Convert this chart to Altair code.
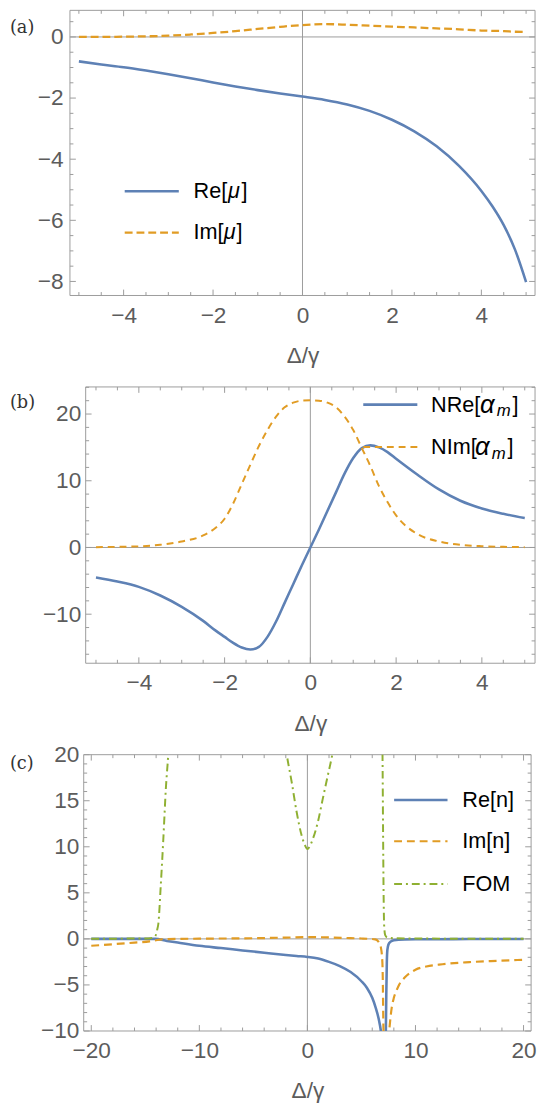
import math
import altair as alt
import pandas as pd

# ---------------- panel (a): mu ----------------
xa = [-5, -4.5, -4, -3.5, -3, -2.5, -2, -1.5, -1, -0.5, 0, 0.5, 1, 1.5, 2, 2.5, 3, 3.5, 4, 4.25, 4.5, 4.75, 5]
re_mu = [-0.80, -0.90, -0.99, -1.10, -1.22, -1.35, -1.49, -1.62, -1.74, -1.85, -1.95, -2.06, -2.21,
         -2.42, -2.71, -3.09, -3.58, -4.22, -5.04, -5.55, -6.16, -6.95, -8.02]
im_mu = [0.00, 0.00, 0.01, 0.02, 0.04, 0.08, 0.13, 0.19, 0.26, 0.33, 0.39, 0.42, 0.40,
         0.37, 0.34, 0.31, 0.28, 0.25, 0.21, 0.20, 0.19, 0.17, 0.16]

# ---------------- panel (b): alpha_m ----------------
xb = [-5, -4.5, -4, -3.5, -3, -2.5, -2.2, -2, -1.8, -1.6, -1.4, -1.2, -1, -0.8, -0.6, -0.4, -0.2, 0,
      0.2, 0.4, 0.6, 0.8, 1, 1.2, 1.4, 1.6, 1.8, 2, 2.5, 3, 3.5, 4, 4.5, 5]
nre_am = [-4.5, -5.1, -5.9, -7.2, -8.9, -11.0, -12.5, -13.4, -14.3, -15.0, -15.3, -14.9, -13.4, -11.1,
          -8.3, -5.5, -2.7, 0.0, 2.7, 5.5, 8.3, 11.1, 13.4, 14.9, 15.3, 15.0, 14.3, 13.3, 10.9, 8.7,
          7.0, 5.85, 5.05, 4.4]
nim_am = [0.05, 0.10, 0.17, 0.40, 0.90, 1.80, 3.00, 4.30, 6.60, 9.50, 12.40, 15.20, 17.60, 19.60,
          21.00, 21.70, 22.00, 22.05, 22.00, 21.70, 21.00, 19.60, 17.60, 14.90, 12.20, 9.20, 6.80,
          4.80, 2.00, 0.90, 0.40, 0.20, 0.10, 0.05]

# ---------------- panel (c): n and FOM (branches split where curves leave the range) ----------------
xc_re_1 = [-20, -18, -16, -14.6, -14.1, -13, -12, -10, -8, -6, -4, -2, -1, 0, 1, 2, 3, 4, 5, 5.5, 6,
           6.3, 6.6, 6.8, 6.9]
re_n_1 = [0, 0, 0, 0, 0, -0.22, -0.4, -0.75, -1.0, -1.25, -1.5, -1.75, -1.86, -1.96, -2.14, -2.5,
          -2.95, -3.6, -4.6, -5.3, -6.4, -7.4, -8.7, -10.0, -11.0]
xc_re_2 = [7.25, 7.3, 7.35, 7.4, 7.5, 7.7, 8.0, 9, 10, 12, 15, 20]
re_n_2 = [-11, -6, -2.5, -1.2, -0.6, -0.3, -0.15, -0.06, -0.04, -0.03, -0.02, -0.01]

xc_im_1 = [-20, -18, -16, -14.6, -14.1, -13.5, -12, -10, -8, -6, -4, -2, 0, 2, 4, 5, 5.8, 6.27,
           6.57, 6.81, 6.94, 6.97, 7.03, 7.06]
im_n_1 = [-0.75, -0.58, -0.4, -0.27, -0.18, -0.05, 0.0, 0.02, 0.04, 0.06, 0.09, 0.14, 0.2, 0.16,
          0.08, 0.04, 0.0, -0.05, -0.29, -1.0, -2.6, -4.0, -9.4, -11]
xc_im_2 = [7.5, 7.6, 7.8, 8.0, 8.25, 8.5, 9, 10, 11, 12.5, 15, 17.5, 20]
im_n_2 = [-11, -9.6, -7.5, -6.4, -5.6, -4.95, -4.2, -3.35, -3.0, -2.75, -2.52, -2.38, -2.27]

xc_fom_1 = [-20, -17, -15, -14.5, -14.2, -14.1, -14.0, -13.9, -13.79, -13.58, -13.33, -13.1, -12.88, -12.7]
fom_1 = [0.02, 0.03, 0.05, 0.08, 0.15, 0.25, 0.5, 1.0, 1.67, 5.6, 10.9, 16.3, 20, 24]
xc_fom_2 = [-2.1, -1.91, -1.45, -1.0, -0.55, -0.24, 0, 0.21, 0.52, 0.97, 1.42, 1.88, 2.3, 2.45]
fom_2 = [21.5, 20, 17.0, 13.8, 11.3, 10.2, 9.75, 10.04, 10.9, 12.7, 15.2, 17.7, 20, 21]
xc_fom_3 = [6.9, 6.95, 7.0, 7.05, 7.1, 7.2, 7.4, 8, 10, 15, 20]
fom_3 = [24, 20, 12, 5, 1.5, 0.4, 0.15, 0.08, 0.04, 0.02, 0.01]

# ---------------- styling ----------------
FONT = "Liberation Sans"
FS = 22        # legend text
AFS = 23       # tick labels and axis titles
LAB = "#5c5c5c"
FRAME = "#9b9b9b"
BLUE, ORANGE, GREEN = "#5E81B5", "#E19C24", "#8FB032"
W = 474
ONE = pd.DataFrame({"z": [0.0]})


def branches(*pairs):
    parts = []
    for i, (xx, yy) in enumerate(pairs):
        parts.append(pd.DataFrame({"x": xx, "y": yy, "seg": i}))
    return pd.concat(parts, ignore_index=True)


def steps(lo, hi, step, skip):
    out = []
    k = math.ceil(lo / step - 1e-9)
    while k * step <= hi + 1e-9:
        v = round(k * step, 6)
        if all(abs(v - s) > 1e-9 for s in skip):
            out.append(v)
        k += 1
    return out


def panel(series, xdom, ydom, xl, xr, H, xmaj, xstep, ymaj, ystep, yoff, ylpad,
          tag, tag_y, leg_lines, leg_texts, guard=False):
    xs = alt.Scale(domain=xdom, range=[xl, xr], nice=False, zero=False)
    ys = alt.Scale(domain=ydom, nice=False, zero=False)
    xaxis = alt.Axis(values=xmaj, title="Δ/γ", ticks=False, domain=False, grid=False,
                     labelFont=FONT, labelFontSize=AFS, labelColor=LAB, labelPadding=9,
                     labelFlush=False, labelOverlap=False,
                     titleFont=FONT, titleFontSize=AFS, titleFontWeight="normal",
                     titleColor=LAB, titlePadding=18)
    yaxis = alt.Axis(values=ymaj, title=None, ticks=False, domain=False, grid=False,
                     labelFont=FONT, labelFontSize=AFS, labelColor=LAB, labelPadding=ylpad,
                     offset=yoff, labelFlush=False, labelOverlap=False)
    X = lambda f: alt.X(f, scale=xs, axis=xaxis)
    Y = lambda f: alt.Y(f, scale=ys, axis=yaxis)
    layers = []
    # frame
    layers.append(alt.Chart(ONE).mark_rect(fill="transparent", stroke=FRAME, strokeWidth=1).encode(
        x=alt.value(xl), x2=alt.value(xr), y=alt.value(0), y2=alt.value(H)))
    # zero axes
    layers.append(alt.Chart(ONE).mark_rule(color=FRAME, strokeWidth=1).encode(x=X("z:Q")))
    layers.append(alt.Chart(ONE).mark_rule(color=FRAME, strokeWidth=1).encode(
        y=Y("z:Q"), x=alt.value(xl), x2=alt.value(xr)))
    # frame ticks on all four sides
    xminor = steps(xdom[0], xdom[1], xstep, xmaj)
    yminor = steps(ydom[0], ydom[1], ystep, ymaj)
    for vals, ln in ((xmaj, 6), (xminor, 3.5)):
        d = pd.DataFrame({"v": vals})
        for y1, y2 in ((H, H - ln), (0, ln)):
            layers.append(alt.Chart(d).mark_rule(color=FRAME, strokeWidth=1).encode(
                x=X("v:Q"), y=alt.value(y1), y2=alt.value(y2)))
    for vals, ln in ((ymaj, 6), (yminor, 3.5)):
        d = pd.DataFrame({"v": vals})
        for x1, x2 in ((xl, xl + ln), (xr, xr - ln)):
            layers.append(alt.Chart(d).mark_rule(color=FRAME, strokeWidth=1).encode(
                y=Y("v:Q"), x=alt.value(x1), x2=alt.value(x2)))
    # data series
    for df, color, dash, sw in series:
        mk = dict(color=color, strokeWidth=sw, clip=True, interpolate="monotone")
        if dash:
            mk["strokeDash"] = dash
        layers.append(alt.Chart(df).mark_line(**mk).encode(
            x=X("x:Q"), y=Y("y:Q"), detail="seg:N"))
    # legend
    for x1, x2, y, color, dash, sw in leg_lines:
        mk = dict(color=color, strokeWidth=sw)
        if dash:
            mk["strokeDash"] = dash
        layers.append(alt.Chart(ONE).mark_rule(**mk).encode(
            x=alt.value(x1), x2=alt.value(x2), y=alt.value(y)))
    for x, y, txt, size, style in leg_texts:
        layers.append(alt.Chart(ONE).mark_text(
            text=txt, align="left", baseline="middle", font=FONT, fontSize=size,
            fontStyle=style, color="#000000").encode(x=alt.value(x), y=alt.value(y)))
    # panel tag
    layers.append(alt.Chart(ONE).mark_text(
        text=tag, align="left", baseline="middle", font="DejaVu Serif", fontSize=18,
        color="#333333").encode(x=alt.value(-60), y=alt.value(tag_y)))
    if guard:
        layers.append(alt.Chart(ONE).mark_rule(strokeOpacity=0).encode(
            x=alt.value(30), y=alt.value(-11), y2=alt.value(0)))
    return alt.layer(*layers).properties(width=W, height=H)


dfa_re = branches((xa, re_mu))
dfa_im = branches((xa, im_mu))
dfb_re = branches((xb, nre_am))
dfb_im = branches((xb, nim_am))
dfc_re = branches((xc_re_1, re_n_1), (xc_re_2, re_n_2))
dfc_im = branches((xc_im_1, im_n_1), (xc_im_2, im_n_2))
dfc_fom = branches((xc_fom_1, fom_1), (xc_fom_2, fom_2), (xc_fom_3, fom_3))

pa = panel(
    [(dfa_re, BLUE, None, 2.6), (dfa_im, ORANGE, [8, 4], 2.3)],
    [-5.2, 5.2], [-8.46, 0.87], 1, 474, 290,
    [-4, -2, 0, 2, 4], 0.5, [-8, -6, -4, -2, 0], 0.5, -1, 7,
    "(a)", 18,
    [(56.7, 111.7, 184, BLUE, None, 2.6), (56.7, 111.7, 226, ORANGE, [8, 4], 2.3)],
    [(126.7, 184, "Re[", FS, "normal"), (161.7, 184, "μ", FS, "italic"), (175.4, 184, "]", FS, "normal"),
     (126.7, 226, "Im[", FS, "normal"), (157.3, 226, "μ", FS, "italic"), (170.5, 226, "]", FS, "normal")],
)

pb = panel(
    [(dfb_re, BLUE, None, 2.6), (dfb_im, ORANGE, [7, 5], 2.0)],
    [-5.24, 5.24], [-17.35, 24.06], 17, 474, 281,
    [-4, -2, 0, 2, 4], 0.5, [-10, 0, 10, 20], 2, -17, 5,
    "(b)", 16,
    [(299.3, 354.3, 18, BLUE, None, 2.6), (299.3, 354.3, 61, ORANGE, [7, 5], 2.0)],
    [(368.3, 18, "NRe[", FS, "normal"), (418, 18, "α", 26, "italic"), (435, 25, "m", 17, "italic"),
     (451, 18, "]", FS, "normal"),
     (368.3, 61, "NIm[", FS, "normal"), (413, 61, "α", 26, "italic"), (430, 68, "m", 17, "italic"),
     (446, 61, "]", FS, "normal")],
    guard=True,
)

pc = panel(
    [(dfc_re, BLUE, None, 2.6), (dfc_im, ORANGE, [8, 5], 2.2), (dfc_fom, GREEN, [8, 4, 2, 4], 2.0)],
    [-20.7, 20.7], [-10, 20], 15, 470, 281,
    [-20, -10, 0, 10, 20], 2, [-10, -5, 0, 5, 10, 15, 20], 1, -15, 5,
    "(c)", 10,
    [(330.7, 385, 46, BLUE, None, 2.6), (330.7, 385, 88, ORANGE, [8, 5], 2.2),
     (330.7, 385, 131.5, GREEN, [8, 4, 2, 4], 2.0)],
    [(400, 46, "Re[n]", FS, "normal"), (400, 88, "Im[n]", FS, "normal"), (400, 131.5, "FOM", FS, "normal")],
)

chart = alt.vconcat(pa, pb, pc, spacing=9).properties(
    padding={"left": 2, "top": -8, "right": 0, "bottom": 0}
).configure_view(strokeOpacity=0)

chart.save("out.html", embed_options={"renderer": "svg", "actions": False})
